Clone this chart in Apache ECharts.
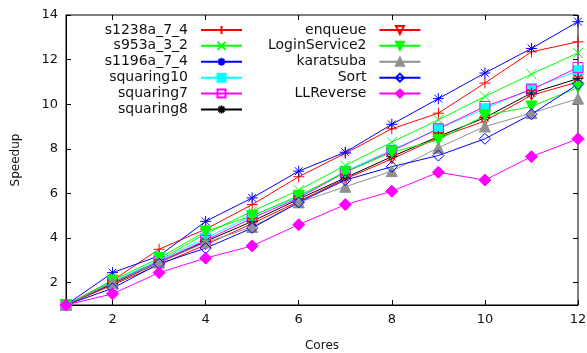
<!DOCTYPE html>
<html>
<head>
<meta charset="utf-8">
<script src="https://cdn.jsdelivr.net/npm/echarts@6/dist/echarts.min.js"></script>
<style>
  html, body { margin: 0; padding: 0; background: #fff; }
  #chart { width: 587px; height: 353px; }
</style>
</head>
<body>
<div id="chart"></div>
<script>
const cores = [1, 2, 3, 4, 5, 6, 7, 8, 9, 10, 11, 12]
const tickValuesX = [2, 4, 6, 8, 10, 12]
const tickValuesY = [2, 4, 6, 8, 10, 12, 14]

const s1238a = [1, 2.1, 3.5, 4.4, 5.5, 6.75, 7.8, 8.9, 9.6, 10.95, 12.35, 12.8]
const s953a = [1, 2.0, 3.0, 4.2, 5.2, 6.15, 7.25, 8.3, 9.3, 10.35, 11.35, 12.3]
const s1196a = [1, 2.45, 3.2, 4.75, 5.8, 7.0, 7.85, 9.1, 10.25, 11.4, 12.5, 13.7]
const squaring10 = [1, 2.05, 3.0, 4.0, 5.0, 5.85, 7.0, 7.95, 8.9, 9.8, 10.7, 11.5]
const squaring7 = [1, 2.0, 2.95, 3.9, 4.9, 5.8, 6.95, 7.9, 8.9, 9.9, 10.65, 11.65]
const squaring8 = [1, 1.95, 2.9, 3.85, 4.75, 5.75, 6.7, 7.65, 8.55, 9.4, 10.5, 11.15]
const enqueue = [1, 1.9, 2.8, 3.7, 4.65, 5.65, 6.65, 7.55, 8.5, 9.25, 10.4, 11.0]
const loginService2 = [1, 2.1, 3.1, 4.3, 5.0, 5.9, 6.95, 7.85, 8.4, 9.5, 9.9, 10.75]
const karatsuba = [1, 2.0, 2.9, 3.8, 4.5, 5.6, 6.3, 7.0, 8.05, 9.0, 9.6, 10.25]
const sort = [1, 1.75, 2.85, 3.55, 4.45, 5.6, 6.6, 7.2, 7.7, 8.45, 9.55, 10.9]
const llReverse = [1, 1.5, 2.45, 3.1, 3.65, 4.6, 5.5, 6.1, 6.95, 6.6, 7.65, 8.45]

const PLUS = 'path://M0,5H10M5,0V10'
const CROSS = 'path://M0,0L10,10M10,0L0,10'
const STAR = 'path://M0,5H10M5,0V10M1.5,1.5L8.5,8.5M8.5,1.5L1.5,8.5'
const TRI_DOWN = 'path://M0,0L10,0L5,9Z'

const FONT = 'DejaVu Sans'

// name, values, colour, symbol, size, filled
const seriesDefs = [
  ['s1238a_7_4', s1238a, '#ff0000', PLUS, 11, false],
  ['s953a_3_2', s953a, '#00ff00', CROSS, 10, false],
  ['s1196a_7_4', s1196a, '#0000ff', STAR, 11, false],
  ['squaring10', squaring10, '#00ffff', 'rect', 10, true],
  ['squaring7', squaring7, '#ff00ff', 'rect', 10, false],
  ['squaring8', squaring8, '#000000', STAR, 11, false],
  ['enqueue', enqueue, '#ff0000', TRI_DOWN, 10, false],
  ['LoginService2', loginService2, '#00ff00', TRI_DOWN, 11, true],
  ['karatsuba', karatsuba, '#909090', 'triangle', 11, true],
  ['Sort', sort, '#0000ff', 'diamond', 11, false],
  ['LLReverse', llReverse, '#ff00ff', 'diamond', 12, true],
]

const series = seriesDefs.map(([name, vals, color, symbol, size, filled]) => ({
  name,
  type: 'line',
  data: cores.map((c, i) => [c, vals[i]]),
  symbol,
  symbolSize: size,
  showAllSymbol: true,
  animation: false,
  lineStyle: { color, width: 1 },
  itemStyle: {
    color: filled ? color : 'none',
    borderColor: color,
    borderWidth: 1,
  },
  emphasis: { disabled: true },
}))

const legendText = { fontFamily: FONT, fontSize: 14, color: '#111', lineHeight: 15.9 }

const legendBase = {
  orient: 'vertical',
  align: 'right',
  itemWidth: 41,
  itemHeight: 10,
  itemGap: 0,
  padding: 0,
  selectedMode: false,
  top: 22,
  formatter: '{a|{name}}',
}

const chart = echarts.init(document.getElementById('chart'), null, { renderer: 'canvas' })
chart.setOption({
  animation: false,
  backgroundColor: '#fff',
  grid: {
    left: 66, right: 9, top: 15, bottom: 48,
    outerBoundsMode: 'none', containLabel: false,
    show: true, borderColor: '#000', borderWidth: 1,
  },
  legend: [
    Object.assign({}, legendBase, {
      data: seriesDefs.slice(0, 6).map(d => d[0]),
      left: 100,
      textStyle: Object.assign({}, legendText, { rich: { a: Object.assign({ width: 88, align: 'right', padding: [0, 8, 0, 0] }, legendText) } }),
    }),
    Object.assign({}, legendBase, {
      data: seriesDefs.slice(6).map(d => d[0]),
      left: 268,
      textStyle: Object.assign({}, legendText, { rich: { a: Object.assign({ width: 98, align: 'right', padding: [0, 8, 0, 0] }, legendText) } }),
    }),
  ],
  xAxis: [
    {
      type: 'value', min: 1, max: 12,
      name: 'Cores', nameLocation: 'middle', nameGap: 35,
      nameTextStyle: { fontFamily: FONT, fontSize: 12, color: '#111' },
      axisLine: { show: true, lineStyle: { color: '#000' } },
      axisTick: { inside: true, length: 5, customValues: tickValuesX, lineStyle: { color: '#000' } },
      axisLabel: { customValues: tickValuesX, margin: 8, fontFamily: FONT, fontSize: 13, color: '#111' },
      splitLine: { show: false },
    },
    {
      type: 'value', min: 1, max: 12, position: 'top',
      axisLine: { show: false },
      axisTick: { inside: true, length: 5, customValues: tickValuesX, lineStyle: { color: '#000' } },
      axisLabel: { show: false },
      splitLine: { show: false },
    },
  ],
  yAxis: [
    {
      type: 'value', min: 1, max: 14,
      name: 'Speedup', nameLocation: 'middle', nameGap: 44,
      nameTextStyle: { fontFamily: FONT, fontSize: 12, color: '#111' },
      axisLine: { show: true, lineStyle: { color: '#000' } },
      axisTick: { inside: true, length: 5, customValues: tickValuesY, lineStyle: { color: '#000' } },
      axisLabel: { customValues: tickValuesY, margin: 8, fontFamily: FONT, fontSize: 13, color: '#111' },
      splitLine: { show: false },
    },
    {
      type: 'value', min: 1, max: 14, position: 'right',
      axisLine: { show: false },
      axisTick: { inside: true, length: 5, customValues: tickValuesY, lineStyle: { color: '#000' } },
      axisLabel: { show: false },
      splitLine: { show: false },
    },
  ],
  series,
})
</script>
</body>
</html>
